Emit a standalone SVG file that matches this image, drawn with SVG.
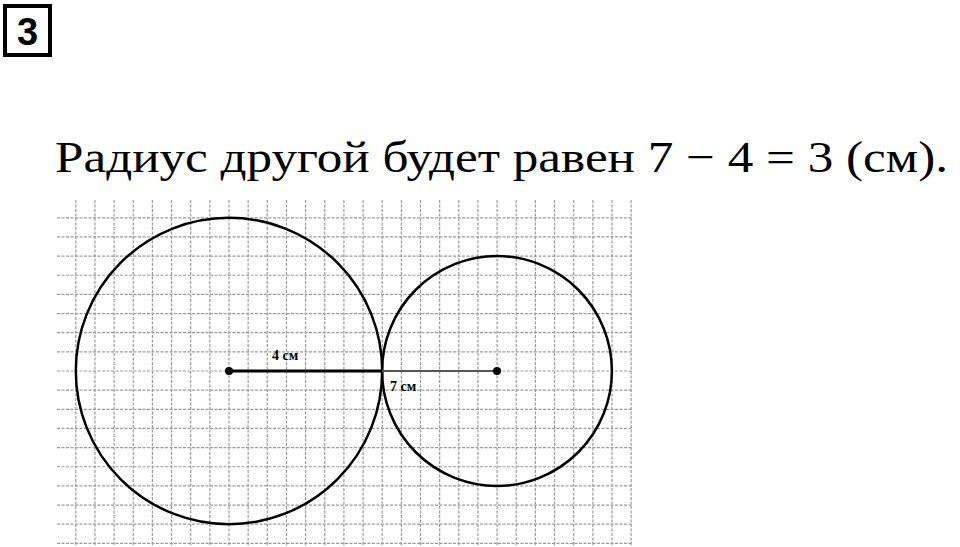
<svg xmlns="http://www.w3.org/2000/svg" width="960" height="547" viewBox="0 0 960 547">
<defs>
<style>
.g{stroke:#9a9a9a;stroke-width:1.2;stroke-dasharray:3 1.5;fill:none}
.c{stroke:#000;stroke-width:2.5;fill:none}
.lbl{font-family:"Liberation Serif",serif;font-weight:bold;font-size:14px;fill:#000}
</style>
</defs>
<rect width="960" height="547" fill="#fff"/>
<g id="header">
<rect x="5" y="6" width="45" height="49" fill="none" stroke="#000" stroke-width="4"/>
<text x="27.5" y="45" text-anchor="middle" font-family="Liberation Sans,sans-serif" font-weight="bold" font-size="38">3</text>
</g>
<g id="title">
<text x="55" y="172" font-family="Liberation Serif,DejaVu Serif,serif" font-size="44" textLength="893" lengthAdjust="spacingAndGlyphs">Радиус другой будет равен 7 − 4 = 3 (см).</text>
</g>
<g id="grid">
<path class="g" d="M75.8 200V545M94.95 200V545M114.1 200V545M133.25 200V545M152.4 200V545M171.55 200V545M190.7 200V545M209.85 200V545M229 200V545M248.15 200V545M267.3 200V545M286.45 200V545M305.6 200V545M324.75 200V545M343.9 200V545M363.05 200V545M382.2 200V545M401.35 200V545M420.5 200V545M439.65 200V545M458.8 200V545M477.95 200V545M497.1 200V545M516.25 200V545M535.4 200V545M554.55 200V545M573.7 200V545M592.85 200V545M612 200V545M631.15 200V545"/>
<path class="g" d="M57 217.8H632M57 236.95H632M57 256.1H632M57 275.25H632M57 294.4H632M57 313.55H632M57 332.7H632M57 351.85H632M57 371H632M57 390.15H632M57 409.3H632M57 428.45H632M57 447.6H632M57 466.75H632M57 485.9H632M57 505.05H632M57 524.2H632M57 543.35H632"/>
</g>
<g id="circle-big"><circle class="c" cx="229" cy="371" r="153.2"/></g>
<g id="circle-small"><circle class="c" cx="497" cy="371" r="114.9"/></g>
<g id="connectors">
<line x1="229" y1="371" x2="382" y2="371" stroke="#000" stroke-width="3"/>
<line x1="382" y1="371" x2="497" y2="371" stroke="#555" stroke-width="2.2"/>
</g>
<g id="center-left"><circle cx="229" cy="371" r="4" fill="#000"/></g>
<g id="center-right"><circle cx="497" cy="371" r="4" fill="#000"/></g>
<g id="labels">
<text class="lbl" x="272" y="360">4 см</text>
<text class="lbl" x="390" y="391">7 см</text>
</g>
</svg>
